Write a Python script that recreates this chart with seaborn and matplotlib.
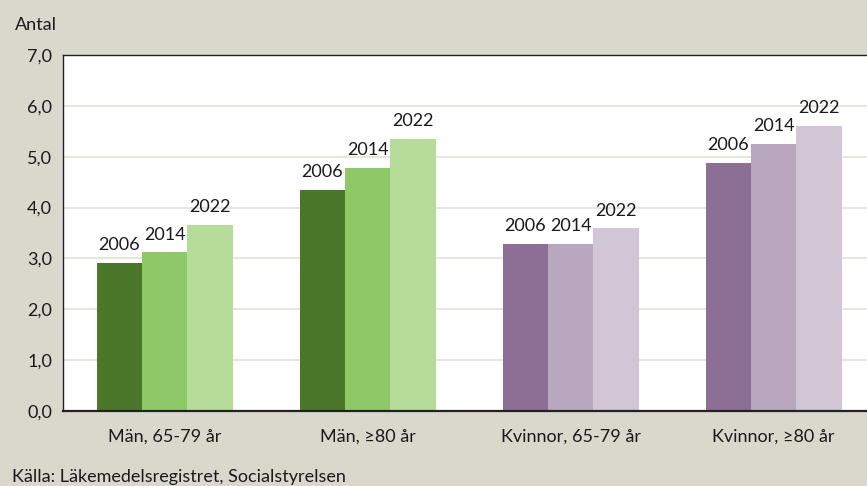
import pandas as pd
import matplotlib.pyplot as plt
import seaborn as sns

# ------------------------
# Data
# ------------------------
groups = ["Män, 65-79 år", "Män, ≥80 år", "Kvinnor, 65-79 år", "Kvinnor, ≥80 år"]
years = ["2006", "2014", "2022"]
v2006 = [2.92, 4.35, 3.29, 4.88]
v2014 = [3.12, 4.78, 3.29, 5.26]
v2022 = [3.66, 5.35, 3.59, 5.60]

green = ["#4b772b", "#8fc866", "#b6dc9a"]
purple = ["#8d6e95", "#b9a6bf", "#d2c5d6"]

df = pd.DataFrame({
    "grupp": groups * 3,
    "år": [y for y in years for _ in groups],
    "antal": v2006 + v2014 + v2022,
})

# ------------------------
# Plot
# ------------------------
sns.set_style("white")
plt.rcParams["font.family"] = ["Lato", "DejaVu Sans"]

bg = "#dad8cc"
txt = "#1a1a1a"
fig = plt.figure(figsize=(8.67, 4.86), dpi=100, facecolor=bg)
ax = fig.add_axes([0.0727, 0.1543, 0.9273, 0.7325])

sns.barplot(data=df, x="grupp", y="antal", hue="år", order=groups, hue_order=years,
            width=0.67, palette=green, saturation=1, legend=False, ax=ax)

# recolor: green for men, purple for women
for i, cont in enumerate(ax.containers):
    for j, bar in enumerate(cont):
        bar.set_facecolor(green[i] if j < 2 else purple[i])
        bar.set_edgecolor("none")
    ax.bar_label(cont, labels=[years[i]] * len(groups), padding=7, fontsize=13, color=txt)

ax.set_ylim(0, 7)
ax.set_xlim(-0.5, 3.46)
ax.set_yticks(range(0, 8))
ax.set_yticklabels([f"{v},0" for v in range(0, 8)], fontsize=13, color=txt)
ax.yaxis.grid(True, color="#e3e0d8", linewidth=1.2)
ax.set_axisbelow(True)

ax.set_xticks([0, 1, 2, 3])
ax.set_xticklabels(groups, fontsize=13, color=txt)
ax.tick_params(axis="x", length=0, pad=13)
ax.tick_params(axis="y", length=0, pad=8)
ax.set_xticks([0.5, 1.5, 2.5], minor=True)
ax.tick_params(axis="x", which="minor", direction="in", length=5, color="#333333")
ax.set_xlabel("")
ax.set_ylabel("")

for s in ["left", "bottom", "top"]:
    ax.spines[s].set_visible(True)
    ax.spines[s].set_color("#222222")
ax.spines["left"].set_linewidth(1.0)
ax.spines["top"].set_linewidth(1.0)
ax.spines["bottom"].set_linewidth(1.6)
ax.spines["right"].set_visible(False)

fig.text(15 / 867, 1 - 25 / 486, "Antal", fontsize=13, color=txt, va="center", ha="left")
fig.text(12 / 867, 1 - 477 / 486, "Källa: Läkemedelsregistret, Socialstyrelsen",
         fontsize=13, color=txt, va="center", ha="left")

fig.savefig("out.png", dpi=100, facecolor=bg)
